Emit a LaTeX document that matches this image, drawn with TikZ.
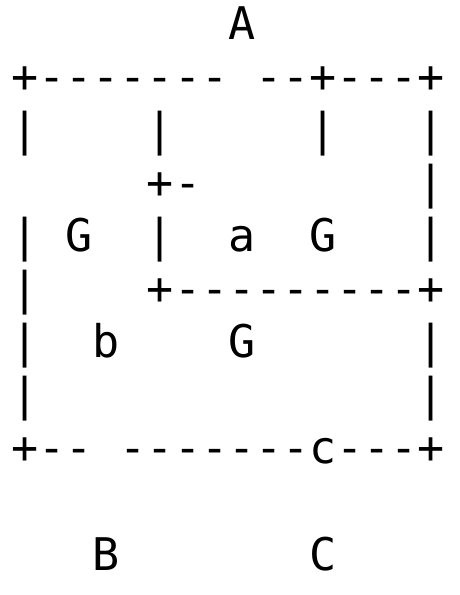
\documentclass[tikz,border=0pt]{standalone}
\usepackage{fontspec}
\setmonofont{DejaVu Sans Mono}
\begin{document}
\begin{tikzpicture}[x=1pt,y=1pt,
  row/.style={anchor=base west,inner sep=0pt,outer sep=0pt,
    font=\ttfamily\fontsize{45}{54}\selectfont}]
\useasboundingbox (0,0) rectangle (460,-595);
\def\lx{11.5}
\node[row] (r0)  at (\lx,-39.0)  {~~~~~~~~A};
\node[row] (r1)  at (\lx,-92.1)  {+-------~--+---+};
\node[row] (r2)  at (\lx,-145.2) {|~~~~|~~~~~|~~~|};
\node[row] (r3)  at (\lx,-198.3) {~~~~~+-~~~~~~~~|};
\node[row] (r4)  at (\lx,-251.4) {|~G~~|~~a~~G~~~|};
\node[row] (r5)  at (\lx,-304.5) {|~~~~+---------+};
\node[row] (r6)  at (\lx,-357.6) {|~~b~~~~G~~~~~~|};
\node[row] (r7)  at (\lx,-410.7) {|~~~~~~~~~~~~~~|};
\node[row] (r8)  at (\lx,-463.8) {+--~-------c---+};
\node[row] (r10) at (\lx,-570.0) {~~~B~~~~~~~C};
\end{tikzpicture}
\end{document}
